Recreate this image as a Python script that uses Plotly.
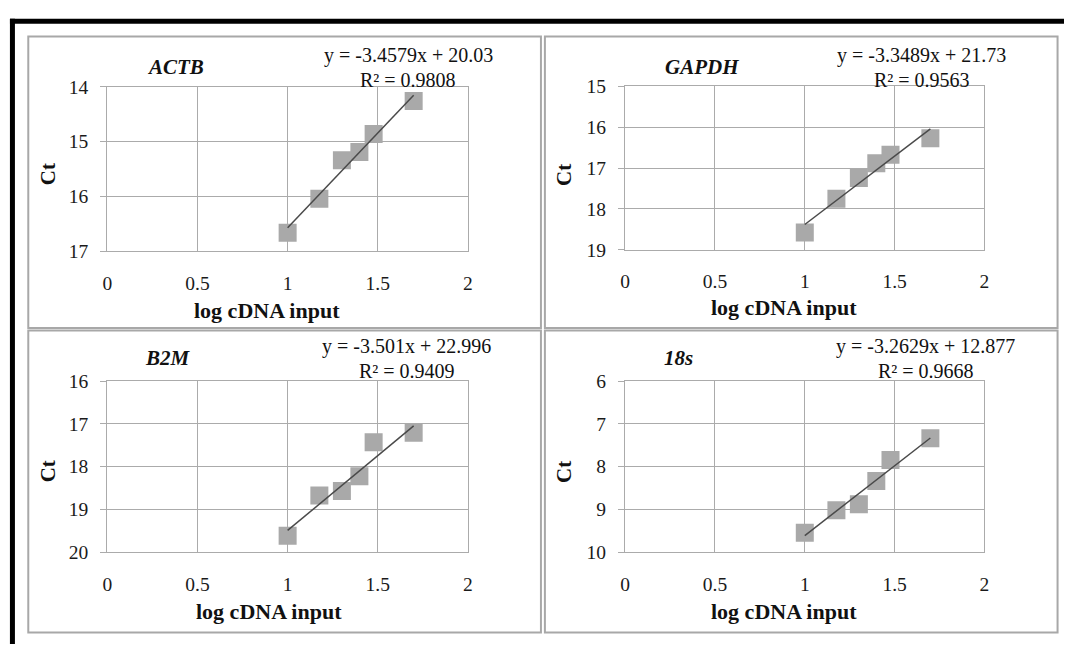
import plotly.graph_objects as go

# ---------------- data ----------------
genes = ["ACTB", "GAPDH", "B2M", "18s"]
log_input = [1.0, 1.176, 1.301, 1.398, 1.477, 1.699]
ct_actb = [16.66, 16.04, 15.34, 15.19, 14.86, 14.26]
ct_gapdh = [18.58, 17.75, 17.24, 16.88, 16.67, 16.27]
ct_b2m = [19.62, 18.68, 18.57, 18.23, 17.43, 17.21]
ct_18s = [9.55, 9.02, 8.88, 8.34, 7.85, 7.34]
slopes = [-3.4579, -3.3489, -3.501, -3.2629]
intercepts = [20.03, 21.73, 22.996, 12.877]
eq_labels = ["y = -3.4579x + 20.03", "y = -3.3489x + 21.73",
             "y = -3.501x + 22.996", "y = -3.2629x + 12.877"]
r2_labels = ["R² = 0.9808", "R² = 0.9563", "R² = 0.9409", "R² = 0.9668"]
y_ranges = [[14, 17], [15, 19], [16, 20], [6, 10]]
x_ticks = [0, 0.5, 1, 1.5, 2]
x_tick_text = ["0", "0.5", "1", "1.5", "2"]
x_title = "log cDNA input"
y_title = "Ct"

series = [ct_actb, ct_gapdh, ct_b2m, ct_18s]

# ---------------- layout geometry (pixels) ----------------
W, H = 1069, 655
def px(x):
    return x / W
def py(y):
    return 1 - y / H

boxes = [(103.3, 467.3, 79.3, 249.3), (626, 988.7, 79, 247.7),
         (103.3, 467.3, 383.3, 560), (626, 988.7, 383.3, 560)]
frames = [(23.5, 541, 27.5, 328.5), (545, 1062.5, 27.5, 328.5),
          (23.5, 541, 331, 643), (545, 1062.5, 331, 643)]
gene_pos = [(172, 59), (703.6, 59), (165, 360), (680, 360)]
eq_pos = [(407, 47), (925.5, 47), (405, 348), (929, 348)]
r2_pos = [(407, 72), (925.5, 72), (406, 373), (930, 373)]
ytitle_pos = [(43, 170), (563.6, 170), (43, 477), (563.6, 477)]
xtitle_pos = [(264, 310), (786.3, 307), (266, 621), (786.8, 621)]

FONT = "Liberation Serif, Times New Roman, serif"
GRID = "#ABABAB"
TXT = "#111111"
TICKFONT = dict(family=FONT, size=19.5, color="#1a1a1a")

fig = go.Figure()
layout = dict(
    width=W, height=H, margin=dict(l=0, r=0, t=0, b=0),
    paper_bgcolor="white", plot_bgcolor="white", showlegend=False,
)
annotations = []
shapes = []

for i in range(4):
    n = i + 1
    xa = "x" if n == 1 else f"x{n}"
    ya = "y" if n == 1 else f"y{n}"
    xkey = "xaxis" if n == 1 else f"xaxis{n}"
    ykey = "yaxis" if n == 1 else f"yaxis{n}"
    l, r, t, b = boxes[i]

    # data points
    fig.add_trace(go.Scatter(
        x=log_input, y=series[i], mode="markers", xaxis=xa, yaxis=ya,
        marker=dict(symbol="square", size=18, color="#A9A9A9",
                    line=dict(width=0)),
    ))
    # linear trendline from the printed equation
    xs = [min(log_input), max(log_input)]
    ys = [slopes[i] * v + intercepts[i] for v in xs]
    fig.add_trace(go.Scatter(
        x=xs, y=ys, mode="lines", xaxis=xa, yaxis=ya,
        line=dict(color="#4A4A4A", width=1.5),
    ))

    layout[xkey] = dict(
        domain=[px(l), px(r)], anchor=ya, range=[0, 2],
        tickvals=x_ticks, ticktext=x_tick_text, tickfont=TICKFONT,
        showgrid=True, gridcolor=GRID, gridwidth=1.3,
        showline=True, linecolor=GRID, linewidth=1.3, mirror=True,
        ticks="", ticklabelstandoff=14, zeroline=False,
    )
    layout[ykey] = dict(
        domain=[py(b), py(t)], anchor=xa,
        range=[y_ranges[i][1], y_ranges[i][0]], dtick=1,
        tickfont=TICKFONT,
        showgrid=True, gridcolor=GRID, gridwidth=1.3,
        showline=True, linecolor=GRID, linewidth=1.3, mirror=True,
        ticks="outside", ticklen=6, tickcolor=GRID, tickwidth=1.3,
        ticklabelstandoff=8, zeroline=False,
    )
    # top tick marks (horizontal axis crosses at the top with reversed y)
    okey = f"xaxis{n + 4}"
    layout[okey] = dict(
        domain=[px(l), px(r)], anchor=ya, overlaying=xa, side="top",
        range=[0, 2], tickvals=x_ticks, showticklabels=False,
        ticks="outside", ticklen=6, tickcolor=GRID, tickwidth=1.3,
        showgrid=False, zeroline=False, showline=False,
    )

    annotations.append(dict(
        text=f"<b><i>{genes[i]}</i></b>", x=px(gene_pos[i][0]), y=py(gene_pos[i][1]),
        xref="paper", yref="paper", showarrow=False, xanchor="center", yanchor="middle",
        font=dict(family=FONT, size=21, color=TXT)))
    annotations.append(dict(
        text=eq_labels[i], x=px(eq_pos[i][0]), y=py(eq_pos[i][1]),
        xref="paper", yref="paper", showarrow=False, xanchor="center", yanchor="middle",
        font=dict(family=FONT, size=20, color=TXT)))
    annotations.append(dict(
        text=r2_labels[i], x=px(r2_pos[i][0]), y=py(r2_pos[i][1]),
        xref="paper", yref="paper", showarrow=False, xanchor="center", yanchor="middle",
        font=dict(family=FONT, size=20, color=TXT)))
    annotations.append(dict(
        text=f"<b>{y_title}</b>", x=px(ytitle_pos[i][0]), y=py(ytitle_pos[i][1]),
        xref="paper", yref="paper", showarrow=False, textangle=-90,
        xanchor="center", yanchor="middle",
        font=dict(family=FONT, size=21, color=TXT)))
    annotations.append(dict(
        text=f"<b>{x_title}</b>", x=px(xtitle_pos[i][0]), y=py(xtitle_pos[i][1]),
        xref="paper", yref="paper", showarrow=False,
        xanchor="center", yanchor="middle",
        font=dict(family=FONT, size=22, color=TXT)))

    fl, fr, ft, fb = frames[i]
    shapes.append(dict(type="rect", xref="paper", yref="paper",
                       x0=px(fl), x1=px(fr), y0=py(fb), y1=py(ft),
                       line=dict(color="#A8A8A8", width=2), layer="below"))

# thick black border along the top and left edges
shapes.append(dict(type="line", xref="paper", yref="paper",
                   x0=px(5), x1=1.0, y0=py(11.5), y1=py(11.5),
                   line=dict(color="black", width=5)))
shapes.append(dict(type="line", xref="paper", yref="paper",
                   x0=px(7.5), x1=px(7.5), y0=0, y1=py(9),
                   line=dict(color="black", width=5)))

layout["annotations"] = annotations
layout["shapes"] = shapes
fig.update_layout(**layout)

fig.write_html(
    "out.html",
    config={"displayModeBar": False},
    post_script="document.body.style.margin='0';",
)
